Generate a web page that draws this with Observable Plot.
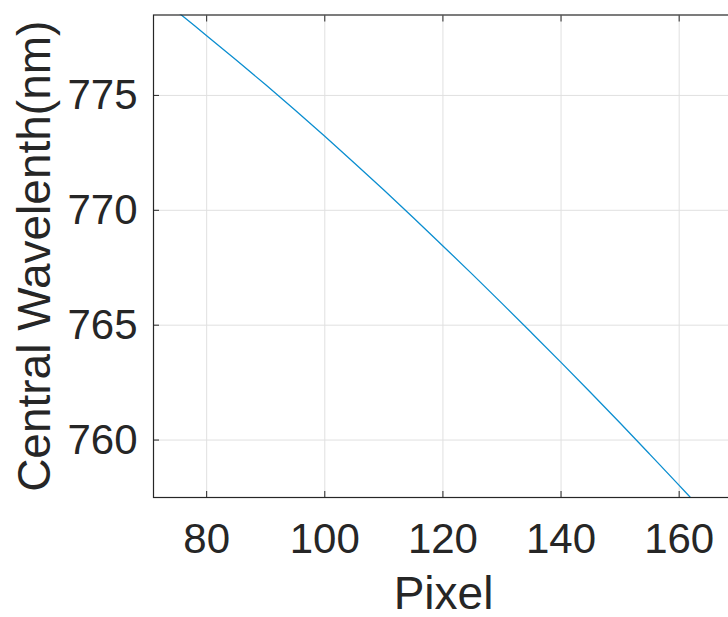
<!DOCTYPE html>
<html>
<head>
<meta charset="utf-8">
<script src="https://cdn.jsdelivr.net/npm/d3@7"></script>
<script src="https://cdn.jsdelivr.net/npm/@observablehq/plot@0.6"></script>
<style>
  html, body { margin: 0; padding: 0; background: #fff; overflow: hidden; }
  #chart { width: 728px; height: 617px; overflow: hidden; }
  #chart svg { display: block; max-width: none !important; width: 740px !important; height: 617px !important; }
</style>
</head>
<body>
<div id="chart"></div>
<script>
// Pixel index vs central wavelength (nm)
const pixels      = [75, 80, 85, 90, 95, 100, 105, 110, 115, 120, 125, 130, 135, 140, 145, 150, 155, 160, 163];
const wavelengths = [778.65, 777.6, 776.54, 775.46, 774.35, 773.22, 772.06, 770.88, 769.68, 768.45,
                     767.21, 765.95, 764.67, 763.38, 762.07, 760.74, 759.39, 758.03, 757.2];
const xTicks = [80, 100, 120, 140, 160];
const yTicks = [760, 765, 770, 775];
const xDomain = [71, 169.2];
const yDomain = [757.5, 778.5];
const xLabel = "Pixel";
const yLabel = "Central Wavelenth(nm)";

const data = pixels.map((p, i) => ({pixel: p, wl: wavelengths[i]}));
const axisColor = "#262626";
const font = "'Liberation Sans', Arial, Helvetica, sans-serif";

const plot = Plot.plot({
  width: 740,
  height: 617,
  marginLeft: 153,
  marginRight: 7,
  marginTop: 14.5,
  marginBottom: 120,
  style: {fontFamily: font, background: "#fff", color: axisColor, overflow: "visible"},
  x: {domain: xDomain},
  y: {domain: yDomain},
  marks: [
    Plot.gridX(xTicks, {stroke: "#e0e0e0", strokeOpacity: 1, strokeWidth: 1}),
    Plot.gridY(yTicks, {stroke: "#e0e0e0", strokeOpacity: 1, strokeWidth: 1}),
    Plot.line(data, {x: "pixel", y: "wl", stroke: "#0b8ed0", strokeWidth: 1.3, curve: "catmull-rom", clip: true}),
    Plot.frame({stroke: axisColor, strokeWidth: 1.2}),
    Plot.axisX(xTicks, {anchor: "bottom", tickSize: 6, dy: -6, stroke: axisColor, text: null, label: null}),
    Plot.axisX(xTicks, {anchor: "top", tickSize: 6, dy: 6, stroke: axisColor, text: null, label: null}),
    Plot.axisY(yTicks, {anchor: "left", tickSize: 6, dx: 6, stroke: axisColor, text: null, label: null}),
    Plot.axisX(xTicks, {anchor: "bottom", tickSize: 0, tickPadding: 26, fontSize: 42, fill: axisColor,
      label: xLabel, labelAnchor: "center", labelArrow: "none", labelOffset: 111}),
    Plot.axisY(yTicks, {anchor: "left", tickSize: 0, tickPadding: 16, fontSize: 42, fill: axisColor,
      label: yLabel, labelAnchor: "center", labelArrow: "none", labelOffset: 136})
  ]
});
plot.querySelectorAll("[aria-label$='axis label'] text, [aria-label$='axis label']").forEach(el => {
  el.setAttribute("font-size", 46);
});
document.getElementById("chart").appendChild(plot);
</script>
</body>
</html>
